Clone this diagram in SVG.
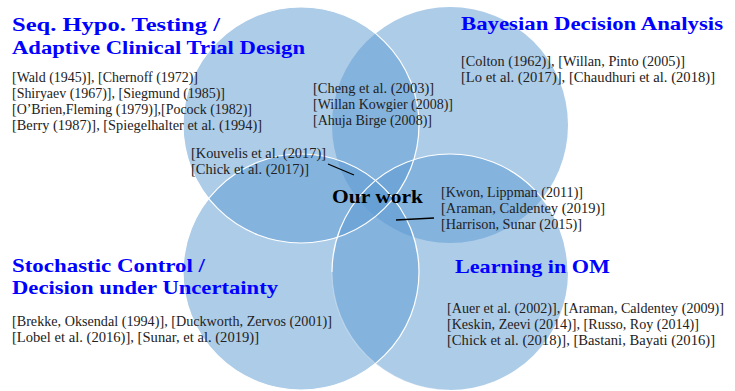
<svg xmlns="http://www.w3.org/2000/svg" width="735" height="391" viewBox="0 0 735 391">
  <style>
    .disc { fill: #5b99d1; fill-opacity: 0.5; stroke: none; }
    .rim { fill: none; stroke: #ffffff; stroke-width: 1.2; }
    .head { font-family: "Liberation Serif", "DejaVu Serif", serif; font-weight: bold; font-size: 19.5px; fill: #0000ff; }
    .ref { font-family: "Liberation Serif", "DejaVu Serif", serif; font-size: 15px; fill: #222222; }
    .core { font-family: "Liberation Serif", "DejaVu Serif", serif; font-weight: bold; font-size: 19.5px; fill: #000000; }
    .link { stroke: #000000; stroke-width: 1.3; fill: none; }
  </style>

  <!-- four overlapping discs of the Venn diagram -->
  <g id="disc-seq-testing"><circle class="disc" cx="301" cy="125" r="118"/></g>
  <g id="disc-bayesian"><circle class="disc" cx="450" cy="125" r="118"/></g>
  <g id="disc-stochastic"><circle class="disc" cx="301" cy="272" r="118"/></g>
  <g id="disc-learning"><circle class="disc" cx="450" cy="272" r="118"/></g>

  <!-- white rims drawn over the fills -->
  <g id="rims">
    <circle class="rim" cx="301" cy="125" r="118"/>
    <circle class="rim" cx="301" cy="272" r="118"/>
    <path class="rim" d="M332 272 A118 118 0 0 1 568 272"/>
    <path class="rim" stroke-opacity="0.3" d="M332 272 A118 118 0 0 0 450 390"/>
  </g>

  <!-- Sequential hypothesis testing -->
  <g id="seq-testing">
    <text class="head" x="12" y="31" textLength="208" lengthAdjust="spacingAndGlyphs">Seq. Hypo. Testing /</text>
    <text class="head" x="12" y="54" textLength="293" lengthAdjust="spacingAndGlyphs">Adaptive Clinical Trial Design</text>
    <text class="ref" x="12" y="82" textLength="186" lengthAdjust="spacingAndGlyphs">[Wald (1945)], [Chernoff (1972)]</text>
    <text class="ref" x="12" y="98" textLength="213" lengthAdjust="spacingAndGlyphs">[Shiryaev (1967)], [Siegmund (1985)]</text>
    <text class="ref" x="12" y="114" textLength="240" lengthAdjust="spacingAndGlyphs">[O’Brien,Fleming (1979)],[Pocock (1982)]</text>
    <text class="ref" x="12" y="130" textLength="250" lengthAdjust="spacingAndGlyphs">[Berry (1987)], [Spiegelhalter et al. (1994)]</text>
  </g>

  <!-- Bayesian decision analysis -->
  <g id="bayesian">
    <text class="head" x="461" y="30" textLength="262" lengthAdjust="spacingAndGlyphs">Bayesian Decision Analysis</text>
    <text class="ref" x="461" y="66" textLength="224" lengthAdjust="spacingAndGlyphs">[Colton (1962)], [Willan, Pinto (2005)]</text>
    <text class="ref" x="461" y="82" textLength="254" lengthAdjust="spacingAndGlyphs">[Lo et al. (2017)], [Chaudhuri et al. (2018)]</text>
  </g>

  <!-- overlap of testing and Bayesian analysis -->
  <g id="seq-bayes-overlap">
    <text class="ref" x="313" y="93" textLength="121" lengthAdjust="spacingAndGlyphs">[Cheng et al. (2003)]</text>
    <text class="ref" x="313" y="109" textLength="140" lengthAdjust="spacingAndGlyphs">[Willan Kowgier (2008)]</text>
    <text class="ref" x="313" y="125" textLength="119" lengthAdjust="spacingAndGlyphs">[Ahuja Birge (2008)]</text>
  </g>

  <!-- labels pointing to the centre -->
  <g id="kouvelis-chick">
    <text class="ref" x="191" y="158" textLength="135" lengthAdjust="spacingAndGlyphs">[Kouvelis et al. (2017)]</text>
    <text class="ref" x="191" y="174" textLength="118" lengthAdjust="spacingAndGlyphs">[Chick et al. (2017)]</text>
  </g>
  <g id="our-work">
    <text class="core" x="332" y="203" textLength="91" lengthAdjust="spacingAndGlyphs">Our work</text>
  </g>
  <g id="kwon-araman-harrison">
    <text class="ref" x="441" y="197" textLength="142" lengthAdjust="spacingAndGlyphs">[Kwon, Lippman (2011)]</text>
    <text class="ref" x="441" y="213" textLength="164" lengthAdjust="spacingAndGlyphs">[Araman, Caldentey (2019)]</text>
    <text class="ref" x="441" y="229" textLength="141" lengthAdjust="spacingAndGlyphs">[Harrison, Sunar (2015)]</text>
  </g>

  <!-- Stochastic control -->
  <g id="stochastic">
    <text class="head" x="12" y="272" textLength="193" lengthAdjust="spacingAndGlyphs">Stochastic Control /</text>
    <text class="head" x="12" y="294" textLength="266" lengthAdjust="spacingAndGlyphs">Decision under Uncertainty</text>
    <text class="ref" x="12" y="326" textLength="320" lengthAdjust="spacingAndGlyphs">[Brekke, Oksendal (1994)], [Duckworth, Zervos (2001)]</text>
    <text class="ref" x="12" y="342" textLength="247" lengthAdjust="spacingAndGlyphs">[Lobel et al. (2016)], [Sunar, et al. (2019)]</text>
  </g>

  <!-- Learning in operations management -->
  <g id="learning">
    <text class="head" x="455" y="273" textLength="155" lengthAdjust="spacingAndGlyphs">Learning in OM</text>
    <text class="ref" x="447" y="313" style="font-size:14px" textLength="277" lengthAdjust="spacingAndGlyphs">[Auer et al. (2002)], [Araman, Caldentey (2009)]</text>
    <text class="ref" x="447" y="329" textLength="252" lengthAdjust="spacingAndGlyphs">[Keskin, Zeevi (2014)], [Russo, Roy (2014)]</text>
    <text class="ref" x="447" y="345" textLength="268" lengthAdjust="spacingAndGlyphs">[Chick et al. (2018)], [Bastani, Bayati (2016)]</text>
  </g>

  <!-- pointer lines -->
  <g id="connectors">
    <line class="link" x1="328" y1="164" x2="354" y2="175"/>
    <line class="link" x1="396" y1="220" x2="434" y2="218"/>
  </g>
</svg>
